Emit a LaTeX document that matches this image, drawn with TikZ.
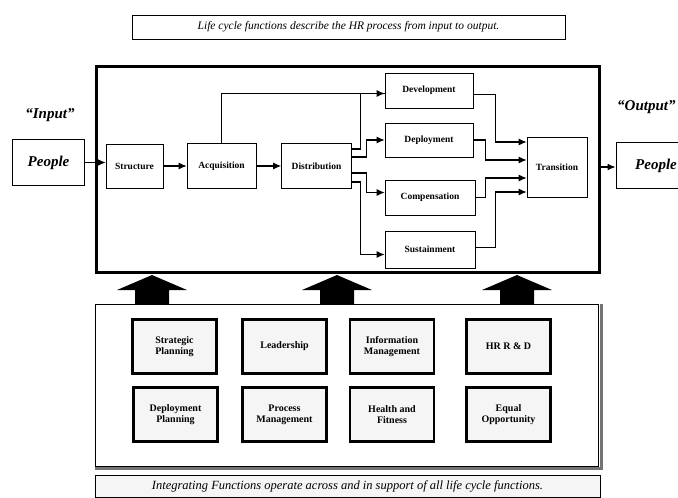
\documentclass[tikz,border=0pt]{standalone}
\usepackage{fontspec}
\setmainfont{Liberation Serif}
\usetikzlibrary{arrows.meta}

\begin{document}
\begin{tikzpicture}[x=1pt, y=-1pt,
	lcbox/.style={draw, line width=.6pt, inner sep=0pt, font=\fontsize{9.5}{11}\selectfont\bfseries},
	igbox/.style={draw, line width=2.2pt, fill=black!4, align=center, minimum width=84pt, minimum height=54pt, font=\fontsize{10}{11}\selectfont\bfseries},
	ppbox/.style={draw, line width=1pt, minimum height=46pt, font=\fontsize{15}{17}\selectfont\bfseries\itshape},
	capbox/.style={draw, line width=.6pt, inner sep=0pt, font=\fontsize{11.5}{13}\selectfont\itshape},
	fl/.style={-{Latex[length=8pt,width=7pt]}, line width=1.1pt}]
	\useasboundingbox (0,0) rectangle (678,498);

	% captions
	\node[capbox, minimum width=433pt, minimum height=24pt] (topcap) at (348.5,27)
		{Life cycle functions describe the HR process from input to output.};
	\node[capbox, font=\fontsize{12.5}{14}\selectfont\itshape, fill=black!4, minimum width=505pt, minimum height=22pt] (botcap) at (347.5,486)
		{Integrating Functions operate across and in support of all life cycle functions.};

	% life cycle
	\node[draw, line width=3pt, minimum width=503pt, minimum height=206pt] (life) at (347.5,169) {};
	\node[ppbox, minimum width=72pt] (inp) at (48.5,162.5) {People};
	\node[ppbox, minimum width=80pt] (outp) at (656,165.5) {People};
	\node[font=\fontsize{15}{17}\selectfont\bfseries\itshape] (inlbl) at (50,115) {“Input”};
	\node[font=\fontsize{15}{17}\selectfont\bfseries\itshape, anchor=west, inner sep=0pt] (outlbl) at (617,107) {“Output”};

	\node[lcbox, minimum width=57pt, minimum height=44pt] (struct) at (134.5,166) {Structure};
	\node[lcbox, minimum width=69pt, minimum height=45pt] (acq) at (221.5,166) {Acquisition};
	\node[lcbox, minimum width=70pt, minimum height=45pt] (dist) at (316.5,166) {Distribution};
	\node[lcbox, minimum width=88pt, minimum height=35pt] (dev) at (429,90.5) {Development};
	\node[lcbox, minimum width=88pt, minimum height=34pt] (depl) at (429,140) {Deployment};
	\node[lcbox, minimum width=90pt, minimum height=35pt] (comp) at (430,197.5) {Compensation};
	\node[lcbox, minimum width=90pt, minimum height=37pt] (sust) at (430,249.5) {Sustainment};
	\node[lcbox, minimum width=60pt, minimum height=60pt] (trans) at (557,167) {Transition};

	\draw[fl] (inp.east) -- (inp.east -| struct.west);
	\draw[fl] (struct) -- (acq);
	\draw[fl] (acq) -- (dist);
	\draw[line width=.6pt] (acq.north) |- ([yshift=-3pt]dev.west);
	\draw[fl] ([yshift=17pt]dist.east) -- ++(9,0) |- ([yshift=-3pt]dev.west);
	\draw[fl] ([yshift=9pt]dist.east) -- ++(15,0) |- (depl.west);
	\draw[fl] ([yshift=-7pt]dist.east) -- ++(15,0) |- ([yshift=5pt]comp.west);
	\draw[fl] ([yshift=-16pt]dist.east) -- ++(9,0) |- ([yshift=-5pt]sust.west);
	\draw[fl] ([yshift=-4pt]dev.east) -- ++(22,0) |- ([yshift=25pt]trans.west);
	\draw[fl] (depl.east) -- ++(12,0) |- ([yshift=7pt]trans.west);
	\draw[fl] (comp.east) -- ++(10,0) |- ([yshift=-11pt]trans.west);
	\draw[fl] ([yshift=2pt]sust.east) -- ++(20,0) |- ([yshift=-25pt]trans.west);
	\draw[fl] (trans.east -| life.east) -- (trans.east -| outp.west);

	% integrating functions
	\foreach \x in {152, 337, 517}
		\fill (\x-17,304) -- (\x-17,290) -- (\x-35,290) -- (\x,275) -- (\x+35,290) -- (\x+17,290) -- (\x+17,304) -- cycle;
	\node[draw, line width=1pt, minimum width=503pt, minimum height=162pt] (integ) at (346.5,385) {};
	\draw[line width=3pt, black!55] ([yshift=-2pt]integ.south west) -- ([xshift=3pt,yshift=-2pt]integ.south east) -- ([xshift=3pt]integ.north east);

	\node[igbox] (strat) at (174.5,346.5) {Strategic\\Planning};
	\node[igbox] (lead) at (284.5,346.5) {Leadership};
	\node[igbox] (info) at (392,346.5) {Information\\Management};
	\node[igbox] (hrrd) at (508.5,346.5) {HR R \& D};
	\node[igbox] (deplan) at (175.5,414.5) {Deployment\\Planning};
	\node[igbox] (proc) at (284.5,414.5) {Process\\Management};
	\node[igbox] (health) at (392,414.5) {Health and\\Fitness};
	\node[igbox] (equal) at (508.5,414.5) {Equal\\Opportunity};
\end{tikzpicture}
\end{document}
